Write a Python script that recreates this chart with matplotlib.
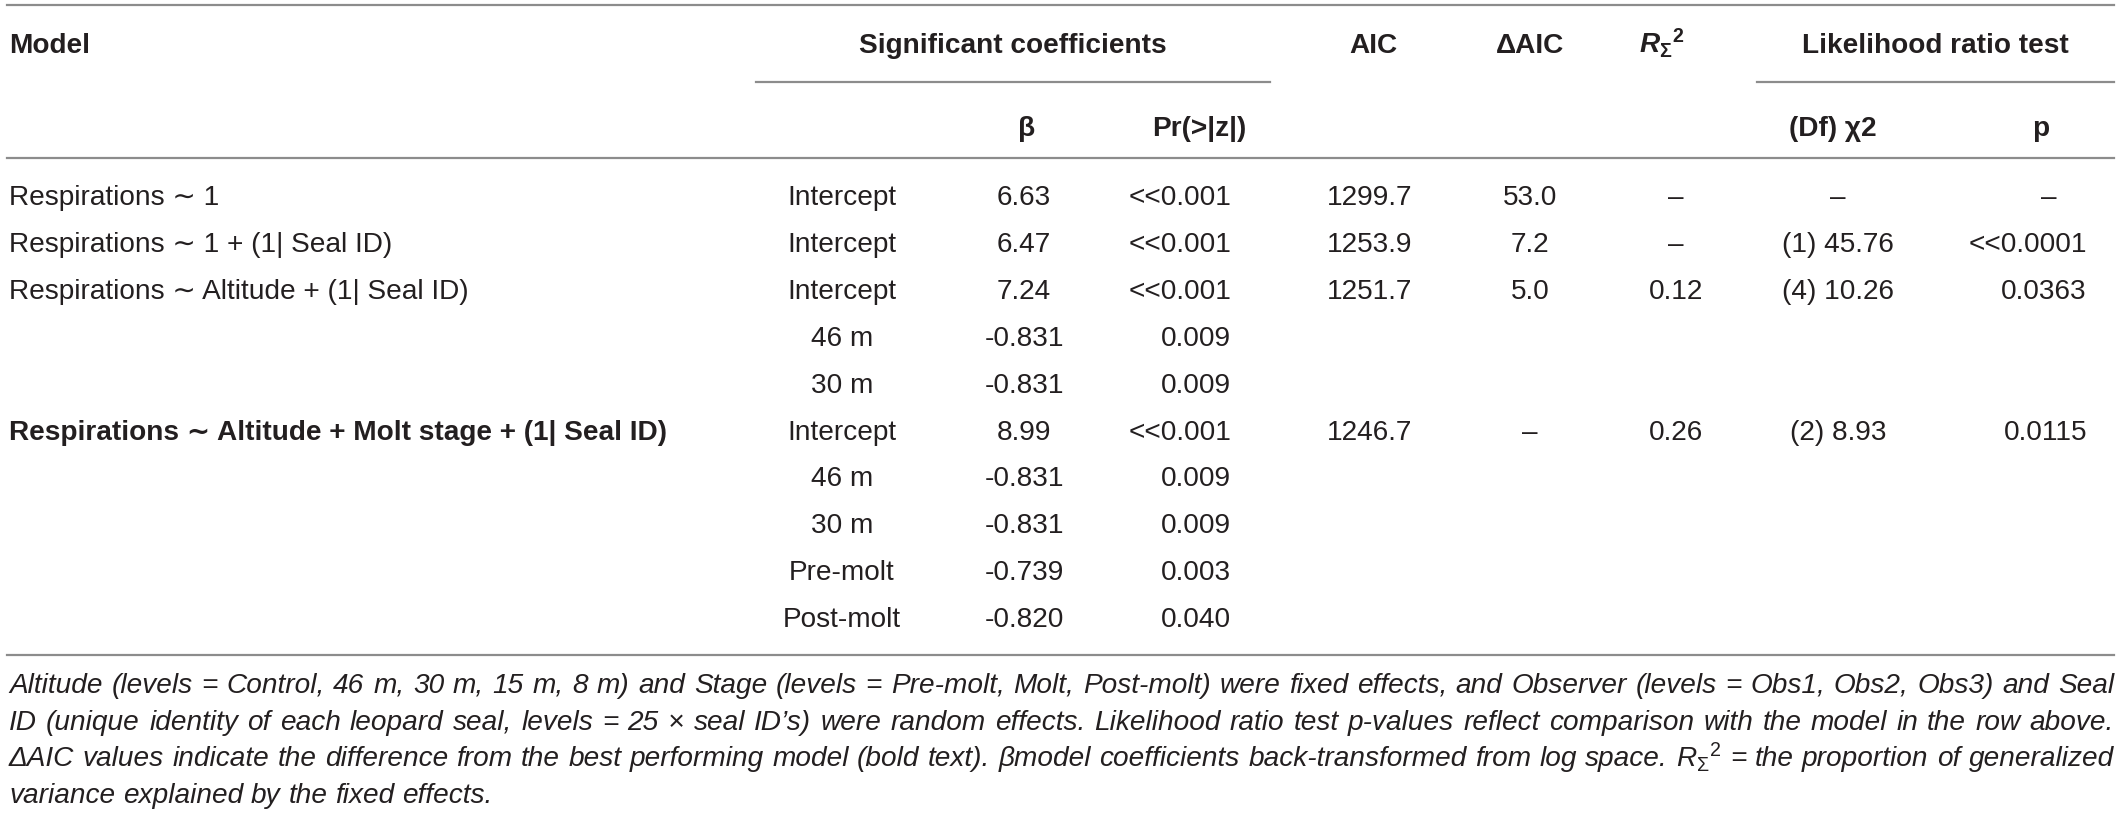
import matplotlib
matplotlib.use("Agg")
import matplotlib.pyplot as plt

plt.rcParams["font.family"] = ["Liberation Sans", "DejaVu Sans"]
plt.rcParams["mathtext.fontset"] = "custom"
plt.rcParams["mathtext.rm"] = "Liberation Sans"
plt.rcParams["mathtext.it"] = "Liberation Sans:italic"
plt.rcParams["mathtext.bf"] = "Liberation Sans:bold"
plt.rcParams["mathtext.bfit"] = "Liberation Sans:italic:bold"

# table data
models = [
    "Respirations \u223c 1",
    "Respirations \u223c 1 + (1| Seal ID)",
    "Respirations \u223c Altitude + (1| Seal ID)",
    "Respirations \u223c Altitude + Molt stage + (1| Seal ID)",
]
model_nterms = [1, 1, 3, 5]
best_model = 3

term_names = ["Intercept", "Intercept", "Intercept", "46 m", "30 m",
              "Intercept", "46 m", "30 m", "Pre-molt", "Post-molt"]
betas = ["6.63", "6.47", "7.24", "-0.831", "-0.831",
         "8.99", "-0.831", "-0.831", "-0.739", "-0.820"]
pr_z = ["<<0.001", "<<0.001", "<<0.001", "0.009", "0.009",
        "<<0.001", "0.009", "0.009", "0.003", "0.040"]

aic = ["1299.7", "1253.9", "1251.7", "1246.7"]
delta_aic = ["53.0", "7.2", "5.0", "\u2013"]
r_sigma2 = ["\u2013", "\u2013", "0.12", "0.26"]
df_chi2 = ["\u2013", "(1) 45.76", "(4) 10.26", "(2) 8.93"]
p_vals = ["\u2013", "<<0.0001", "0.0363", "0.0115"]

footnote = [
    "Altitude (levels = Control, 46 m, 30 m, 15 m, 8 m) and Stage (levels = Pre-molt, Molt, "
    "Post-molt) were fixed effects, and Observer (levels = Obs1, Obs2, Obs3) and Seal",
    "ID (unique identity of each leopard seal, levels = 25 \u00d7 seal ID\u2019s) were random "
    "effects. Likelihood ratio test p-values reflect comparison with the model in the row above.",
    "\u0394AIC values indicate the difference from the best performing model (bold text). "
    "\u03b2model coefficients back-transformed from log space. $R_{\\Sigma}{}^{2}$ = the "
    "proportion of generalized",
    "variance explained by the fixed effects.",
]

W, H = 2121, 816
fig = plt.figure(figsize=(W / 100, H / 100), dpi=100)
ax = fig.add_axes([0, 0, 1, 1])
ax.set_xlim(0, W)
ax.set_ylim(H, 0)
ax.axis("off")

txt = "#231f20"
rule = "#8c8c8c"
fs = 20.2

# rules
for y in [5, 158, 655]:
    ax.plot([7, 2114], [y, y], color=rule, lw=1.6)
ax.plot([756, 1270], [82, 82], color=rule, lw=1.6)
ax.plot([1757, 2114], [82, 82], color=rule, lw=1.6)

# header
h1, h2 = 53, 136
hkw = dict(fontsize=fs, fontweight="bold", color=txt, va="baseline")
ax.text(9, h1, "Model", ha="left", **hkw)
ax.text(1013, h1, "Significant coefficients", ha="center", **hkw)
ax.text(1373, h1, "AIC", ha="center", **hkw)
ax.text(1530, h1, "\u0394AIC", ha="center", **hkw)
ax.text(1662, h1, r"$\mathbfit{R}_{\mathbf{\Sigma}}{}^{\mathbf{2}}$", ha="center", **hkw)
ax.text(1935, h1, "Likelihood ratio test", ha="center", **hkw)
ax.text(1027, h2, "\u03b2", ha="center", **hkw)
ax.text(1246, h2, "Pr(>|z|)", ha="right", **hkw)
ax.text(1833, h2, "(Df) \u03c72", ha="center", **hkw)
ax.text(2041, h2, "p", ha="center", **hkw)

# body
base0, pitch = 205, 46.9
kw = dict(fontsize=fs, color=txt, va="baseline")
row = 0
for i, m in enumerate(models):
    y = base0 + pitch * row
    weight = "bold" if i == best_model else "normal"
    ax.text(9, y, m, ha="left", fontweight=weight, **kw)
    ax.text(1370, y, aic[i], ha="center", **kw)
    ax.text(1530, y, delta_aic[i], ha="center", **kw)
    ax.text(1676, y, r_sigma2[i], ha="center", **kw)
    ax.text(1838, y, df_chi2[i], ha="center", **kw)
    if p_vals[i] == "\u2013":
        ax.text(2049, y, p_vals[i], ha="center", **kw)
    else:
        ax.text(2087, y, p_vals[i], ha="right", **kw)
    for k in range(model_nterms[i]):
        yk = base0 + pitch * (row + k)
        ax.text(842, yk, term_names[row + k], ha="center", **kw)
        ax.text(1024, yk, betas[row + k], ha="center", **kw)
        ax.text(1231, yk, pr_z[row + k], ha="right", **kw)
    row += model_nterms[i]

# footnote, justified
fkw = dict(fontsize=fs, style="italic", color=txt, va="baseline", ha="left")
renderer = fig.canvas.get_renderer()
left, right = 9, 2114
for j, line in enumerate(footnote):
    y = 693 + 36.7 * j
    words = line.split(" ")
    # keep the mathtext token as one word
    merged = []
    for w in words:
        if merged and merged[-1].count("$") == 1:
            merged[-1] += " " + w
        else:
            merged.append(w)
    objs = [ax.text(0, y, w, **fkw) for w in merged]
    widths = [o.get_window_extent(renderer).width for o in objs]
    if j < len(footnote) - 1:
        gap = (right - left - sum(widths)) / (len(objs) - 1)
    else:
        gap = ax.text(0, y, "a a", **fkw).get_window_extent(renderer).width
        gap -= 2 * ax.text(0, y, "a", **fkw).get_window_extent(renderer).width
        ax.texts[-1].remove()
        ax.texts[-1].remove()
    x = left
    for o, w in zip(objs, widths):
        o.set_x(x)
        x += w + gap

fig.savefig("out.png", dpi=100)
